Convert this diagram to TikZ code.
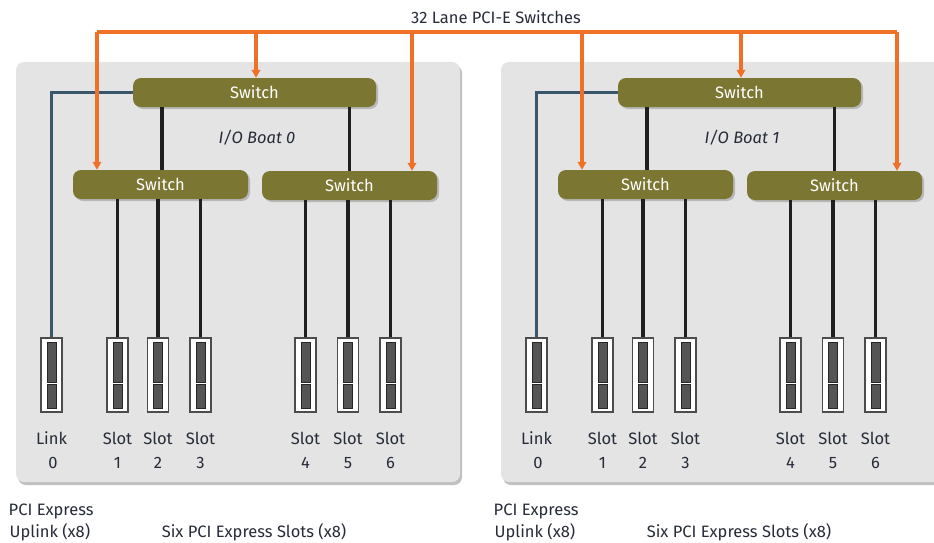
\documentclass[tikz,border=0pt]{standalone}
\usepackage{fontspec}
\setmainfont{Fira Sans}
\usetikzlibrary{arrows.meta,shadows,calc}
\definecolor{swfill}{HTML}{7B7632}
\definecolor{panelfill}{HTML}{E4E4E4}
\definecolor{busorange}{HTML}{EE7127}
\definecolor{linkblue}{HTML}{3A566B}
\definecolor{inktext}{HTML}{262B38}
\definecolor{slotdark}{HTML}{555555}
\tikzset{
  panel/.style={draw=none, fill=panelfill, rounded corners=8pt,
    drop shadow={shadow xshift=2pt, shadow yshift=-3pt, opacity=0.45, fill=black!55}},
  switchbox/.style={fill=swfill, rounded corners=8pt, text=white, minimum height=29pt,
    inner sep=0pt, font=\fontsize{16.5}{19}\selectfont,
    drop shadow={shadow xshift=2pt, shadow yshift=-2pt, opacity=0.35, fill=black!60}},
  slotbox/.style={draw=black!70, fill=white, line width=1.4pt, minimum width=21pt,
    minimum height=74pt, inner sep=0pt},
  slotbar/.style={fill=slotdark, draw=black!85, line width=0.8pt},
  bus/.style={draw=busorange, line width=3.2pt},
  busarrow/.style={bus, -{Triangle[length=8pt,width=8.5pt]}},
  wire/.style={draw=black!88, line width=3.2pt},
  linkwire/.style={draw=linkblue, line width=3.2pt},
  lbl/.style={text=inktext, font=\fontsize{16.5}{19}\selectfont, inner sep=0pt},
}
\begin{document}
\begin{tikzpicture}[x=1pt,y=-1pt]
\useasboundingbox (0,0) rectangle (934,543);

\node[lbl] (title) at (496,17) {32 Lane PCI-E Switches};

\foreach \b/\dx in {0/0,1/485}{
  \begin{scope}[xshift=\dx pt]
    % board outline
    \path[panel] (16,62) rectangle (460,482);

    % switches
    \node[switchbox, minimum width=243pt] (top\b) at (254.5,92.5) {Switch};
    \node[switchbox, minimum width=175pt] (lsw\b) at (160.5,184.5) {Switch};
    \node[switchbox, minimum width=175pt] (rsw\b) at (349.5,185.5) {Switch};

    \node[lbl, font=\fontsize{16.5}{19}\selectfont\itshape] (boat\b) at (257,138) {I/O Boat \b};

    % slots
    \foreach \n/\x in {link/51.5,s1/117.5,s2/158,s3/200.5,s4/305.5,s5/348,s6/390.5}{
      \node[slotbox] (\n\b) at (\x,375) {};
      \draw[slotbar] ([xshift=-4.5pt,yshift=-5pt]\n\b.north) rectangle ([xshift=4.5pt,yshift=-7pt]\n\b.center);
      \draw[slotbar] ([xshift=-4.5pt,yshift=-9pt]\n\b.center) rectangle ([xshift=4.5pt,yshift=4pt]\n\b.south);
    }

    % wiring
    \draw[linkwire] (top\b.west) -| (link\b.north);
    \draw[wire] (lsw\b.north -| 162,0) -- (top\b.south -| 162,0);
    \draw[wire] (rsw\b.north) -- (rsw\b.north |- top\b.south);
    \foreach \n in {s1,s2,s3}{
      \draw[wire] (\n\b.north) -- (\n\b.north |- lsw\b.south);
    }
    \foreach \n in {s4,s5,s6}{
      \draw[wire] (\n\b.north) -- (\n\b.north |- rsw\b.south);
    }

    % labels
    \node[lbl] (linklbl\b) at (51.5,438) {Link};
    \node[lbl] (linknum\b) at (53,463) {0};
    \foreach \n/\k in {s1/1,s2/2,s3/3,s4/4,s5/5,s6/6}{
      \node[lbl] (\n lbl\b) at (\n\b |- 0,438) {Slot};
      \node[lbl] (\n num\b) at (\n\b |- 0,463) {\k};
    }
    \node[lbl, anchor=west] (pci\b) at (8.5,511) {PCI Express};
    \node[lbl, anchor=west] (up\b) at (9.5,532) {Uplink (x8)};
    \node[lbl] (six\b) at (254,532) {Six PCI Express Slots (x8)};
  \end{scope}
}

% shared 32-lane bus
\coordinate (b1) at (97,32);
\coordinate (b2) at (256,32);
\coordinate (b3) at (412,32);
\coordinate (b4) at (582,32);
\coordinate (b5) at (741,32);
\coordinate (b6) at (897,32);
\draw[bus, line join=miter] (b1) -- (b6);
\draw[busarrow] (b1) -- (b1 |- lsw0.north);
\draw[busarrow] (b2) -- (b2 |- top0.north);
\draw[busarrow] (b3) -- (b3 |- rsw0.north);
\draw[busarrow] (b4) -- (b4 |- lsw1.north);
\draw[busarrow] (b5) -- (b5 |- top1.north);
\draw[busarrow] (b6) -- (b6 |- rsw1.north);
\end{tikzpicture}
\end{document}
